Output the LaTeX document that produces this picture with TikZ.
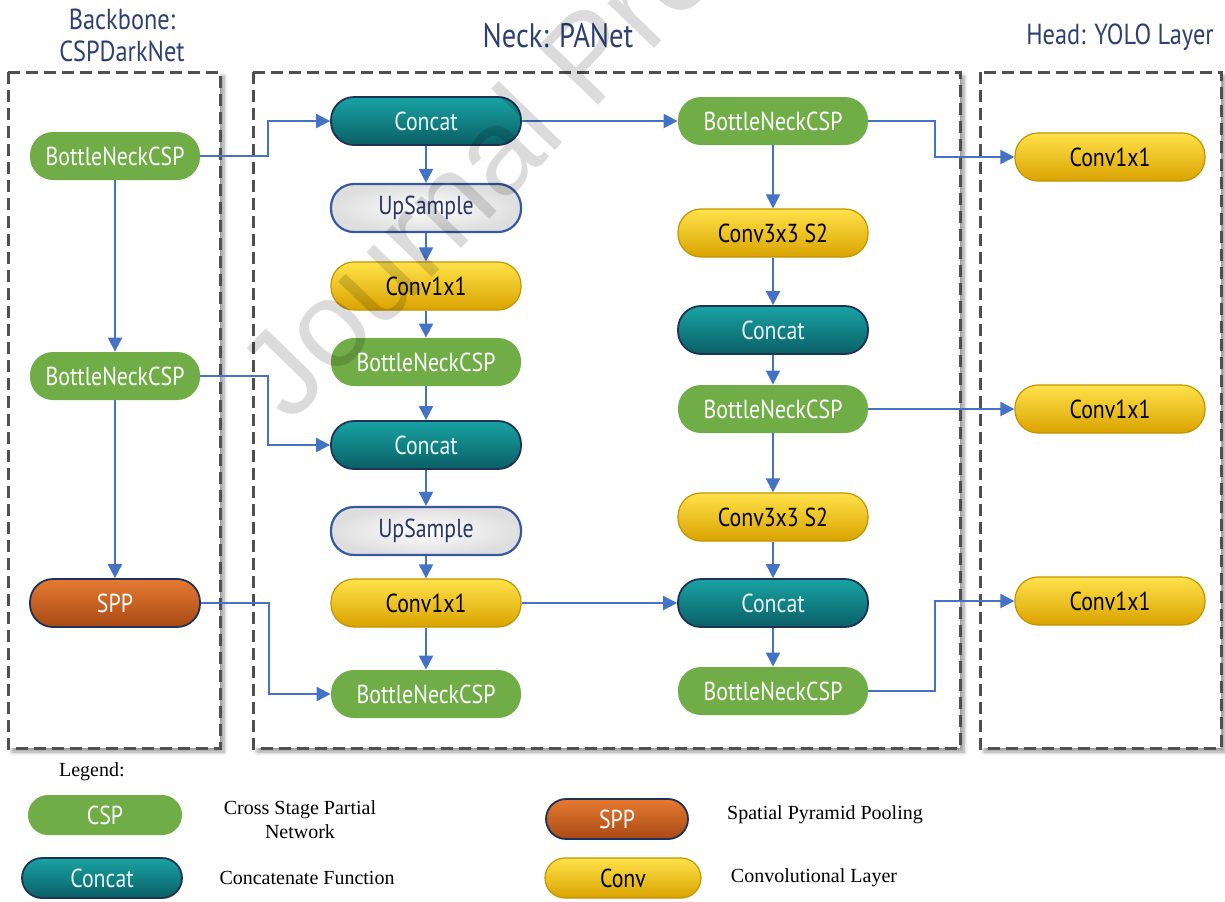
\documentclass[tikz,border=0pt]{standalone}
\usepackage{fontspec}
\setmainfont{Liberation Serif}
\newfontfamily\nodefont[FakeStretch=0.84]{PT Sans}
\newfontfamily\wmfont{Liberation Sans}
\usetikzlibrary{arrows.meta,shadows.blur}
\definecolor{cspgreen}{HTML}{70AD47}
\definecolor{teallight}{HTML}{19A3A3}
\definecolor{tealmid}{HTML}{0E8787}
\definecolor{tealdark}{HTML}{0A5F66}
\definecolor{tealtext}{HTML}{E6F5F2}
\definecolor{navyline}{HTML}{1F3357}
\definecolor{yellowtop}{HTML}{FFE24A}
\definecolor{yellowmid}{HTML}{FFCC00}
\definecolor{yellowbot}{HTML}{D9A300}
\definecolor{yellowline}{HTML}{C49400}
\definecolor{orangetop}{HTML}{E57A32}
\definecolor{orangemid}{HTML}{D2601A}
\definecolor{orangebot}{HTML}{A84A14}
\definecolor{upline}{HTML}{3558A0}
\definecolor{uptext}{HTML}{2B3566}
\definecolor{arrowblue}{HTML}{4472C4}
\definecolor{titlenavy}{HTML}{2E3F70}
\definecolor{panelline}{HTML}{505050}
\tikzset{
  pill/.style={rounded corners=11.5pt, minimum width=95pt, minimum height=24pt,
    inner sep=0pt, font=\nodefont\fontsize{13}{15}\selectfont},
  cspbox/.style={pill, fill=cspgreen, text=white},
  concatbox/.style={pill, draw=navyline, line width=0.9pt, top color=teallight,
    middle color=tealmid, bottom color=tealdark, text=tealtext},
  convbox/.style={pill, draw=yellowline, line width=0.6pt, top color=yellowtop,
    middle color=yellowmid, bottom color=yellowbot, text=black},
  sppbox/.style={pill, draw=navyline, line width=0.9pt, top color=orangetop,
    middle color=orangemid, bottom color=orangebot, text=white},
  upbox/.style={pill, draw=upline, line width=1.1pt, inner color=white,
    outer color=black!13, text=uptext},
  arr/.style={draw=arrowblue, line width=1pt, -{Triangle[length=7pt,width=7pt]}},
  panel/.style={draw=panelline, line width=1.5pt, dash pattern=on 6pt off 3pt,
    fill=white, blur shadow={shadow xshift=2pt, shadow yshift=-2pt, shadow blur steps=6}},
  titletext/.style={font=\nodefont\fontsize{14.5}{16}\selectfont, text=titlenavy, align=center},
  legtext/.style={font=\fontsize{10}{12}\selectfont, align=center, text=black}
}
\begin{document}
\begin{tikzpicture}[x=0.5pt,y=-0.5pt]
\useasboundingbox (0,0) rectangle (1225,901);
% panels
\draw[panel] (8,72) rectangle (220,748);
\draw[panel] (253,72) rectangle (960,748);
\draw[panel] (980,72) rectangle (1221,748);
% titles
\node[titletext] (tback) at (122,35) {Backbone:\\CSPDarkNet};
\node[titletext, font=\nodefont\fontsize{17}{19}\selectfont] (tneck) at (558,36) {Neck: PANet};
\node[titletext] (thead) at (1120,37) {Head: YOLO Layer};
% backbone
\node[cspbox, minimum width=85pt] (b1) at (115,156) {BottleNeckCSP};
\node[cspbox, minimum width=85pt] (b2) at (115,376) {BottleNeckCSP};
\node[sppbox, minimum width=85pt] (spp) at (115,603) {SPP};
% neck left
\node[concatbox] (c1) at (426,121) {Concat};
\node[upbox] (u1) at (426,208) {UpSample};
\node[convbox] (v1) at (426,286) {Conv1x1};
\node[cspbox] (n1) at (426,362) {BottleNeckCSP};
\node[concatbox] (c2) at (426,445) {Concat};
\node[upbox] (u2) at (426,531) {UpSample};
\node[convbox] (v2) at (426,603) {Conv1x1};
\node[cspbox] (n2) at (426,694) {BottleNeckCSP};
% neck right
\node[cspbox] (r1) at (773,121) {BottleNeckCSP};
\node[convbox] (r2) at (773,233) {Conv3x3 S2};
\node[concatbox] (r3) at (773,330) {Concat};
\node[cspbox] (r4) at (773,409) {BottleNeckCSP};
\node[convbox] (r5) at (773,517) {Conv3x3 S2};
\node[concatbox] (r6) at (773,603) {Concat};
\node[cspbox] (r7) at (773,691) {BottleNeckCSP};
% head
\node[convbox] (h1) at (1110,157) {Conv1x1};
\node[convbox] (h2) at (1110,409) {Conv1x1};
\node[convbox] (h3) at (1110,601) {Conv1x1};
% connectors backbone
\draw[arr] (b1) -- (b2);
\draw[arr] (b2) -- (spp);
\draw[arr] (b1.east) -- ++(68,0) |- (c1.west);
\draw[arr] (b2.east) -- ++(68,0) |- (c2.west);
\draw[arr] (spp.east) -- ++(68,0) |- (n2.west);
% left chain
\draw[arr] (c1) -- (u1);
\draw[arr] (u1) -- (v1);
\draw[arr] (v1) -- (n1);
\draw[arr] (n1) -- (c2);
\draw[arr] (c2) -- (u2);
\draw[arr] (u2) -- (v2);
\draw[arr] (v2) -- (n2);
% across
\draw[arr] (c1) -- (r1);
\draw[arr] (v2) -- (r6);
% right chain
\draw[arr] (r1) -- (r2);
\draw[arr] (r2) -- (r3);
\draw[arr] (r3) -- (r4);
\draw[arr] (r4) -- (r5);
\draw[arr] (r5) -- (r6);
\draw[arr] (r6) -- (r7);
% to head
\draw[arr] (r1.east) -- ++(67,0) |- (h1.west);
\draw[arr] (r4) -- (h2);
\draw[arr] (r7.east) -- ++(67,0) |- (h3.west);
% legend
\node[legtext, anchor=west] (leg) at (52,772) {Legend:};
\node[cspbox, minimum width=77pt, minimum height=20pt, rounded corners=10pt] (lcsp) at (105,815) {CSP};
\node[legtext] (lcspt) at (300,820) {Cross Stage Partial\\Network};
\node[concatbox, minimum width=80pt, minimum height=20pt, rounded corners=10pt] (lcat) at (102,878) {Concat};
\node[legtext] (lcatt) at (307,878) {Concatenate Function};
\node[sppbox, minimum width=71pt, minimum height=20pt, rounded corners=10pt] (lspp) at (617,819) {SPP};
\node[legtext] (lsppt) at (825,815) {Spatial Pyramid Pooling};
\node[convbox, minimum width=78pt, minimum height=20pt, rounded corners=10pt] (lconv) at (623,878) {Conv};
\node[legtext] (lconvt) at (814,878) {Convolutional Layer};
% watermark
\node[rotate=46, anchor=base west, font=\wmfont\fontsize{61}{61}\selectfont,
  text=black, opacity=0.14, inner sep=0pt] (wm) at (290,425) {Journal Pre};
\end{tikzpicture}
\end{document}
